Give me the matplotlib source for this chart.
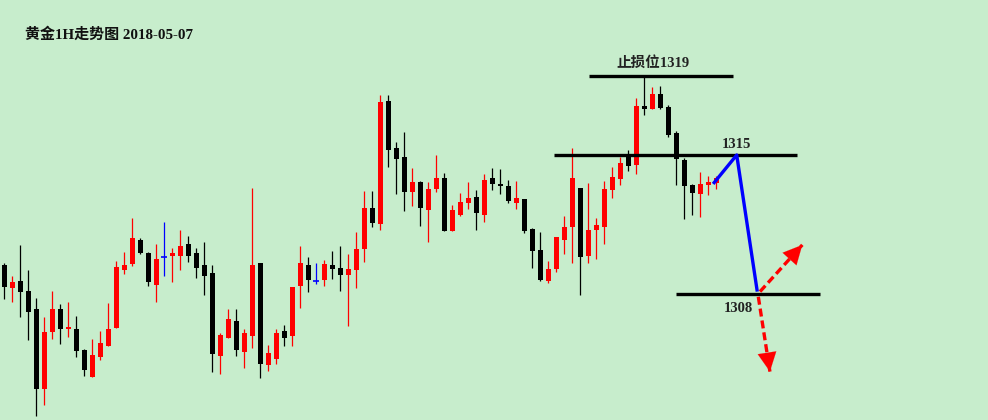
import matplotlib
matplotlib.use("Agg")
import matplotlib.pyplot as plt
import numpy as np

plt.rcParams['font.family'] = ['Liberation Serif', 'Noto Sans CJK SC', 'DejaVu Sans']

title = "黄金1H走势图 2018-05-07"

O = [1309.44,1308.30,1308.63,1308.13,1307.23,1303.20,1306.08,1307.23,1306.23,1306.21,
     1305.15,1303.80,1304.81,1305.37,1306.28,1309.21,1309.51,1310.71,1310.05,1308.45,
     1309.83,1309.91,1309.91,1310.51,1310.05,1309.44,1309.04,1304.86,1305.78,1306.62,
     1305.06,1305.88,1309.54,1304.39,1304.71,1306.11,1305.88,1308.40,1309.44,1308.62,
     1308.70,1309.44,1309.29,1308.95,1309.21,1310.25,1312.32,1311.52,1317.73,1315.35,
     1314.90,1313.13,1313.64,1312.22,1313.28,1313.84,1311.16,1311.97,1312.58,1312.88,
     1311.97,1313.84,1313.54,1313.44,1312.58,1312.78,1311.26,1310.20,1308.65,1309.24,
     1310.71,1311.38,1313.35,1309.91,1311.23,1311.38,1313.25,1313.79,1315.00,1314.51,
     1317.48,1317.34,1318.08,1317.43,1316.11,1314.75,1313.47,1313.05,1313.47,1313.57]

H = [1309.56,1308.89,1310.46,1309.19,1307.78,1306.84,1308.13,1307.48,1307.58,1306.87,
     1305.20,1305.71,1306.11,1307.53,1309.64,1310.10,1311.82,1310.81,1310.11,1310.51,
     1311.62,1310.30,1311.21,1310.91,1310.30,1310.61,1309.44,1306.01,1307.23,1307.23,
     1306.21,1313.34,1309.54,1305.42,1306.21,1306.41,1308.33,1310.40,1309.85,1309.54,
     1309.70,1310.15,1310.40,1310.00,1311.11,1313.18,1313.18,1318.03,1318.03,1315.66,
     1316.16,1314.34,1313.69,1313.64,1315.00,1314.09,1312.48,1313.08,1313.64,1313.23,
     1314.04,1314.34,1314.29,1313.74,1313.69,1312.78,1311.31,1311.11,1309.64,1310.86,
     1311.94,1315.35,1313.35,1313.59,1311.82,1313.69,1314.41,1314.90,1315.25,1317.88,
     1318.96,1318.44,1318.50,1317.53,1316.21,1314.83,1313.54,1314.14,1313.94,1313.94]

L = [1307.73,1307.59,1306.84,1305.67,1301.84,1302.39,1305.73,1305.47,1305.83,1304.81,
     1303.85,1303.80,1304.67,1305.37,1306.28,1309.01,1309.41,1310.01,1308.40,1307.59,
     1308.91,1308.60,1309.21,1309.61,1308.80,1307.91,1304.05,1303.95,1305.78,1304.86,
     1304.24,1305.27,1303.75,1304.08,1304.45,1305.37,1305.37,1307.29,1308.10,1308.50,
     1308.40,1308.75,1308.15,1306.38,1308.30,1309.60,1311.36,1311.21,1314.40,1313.03,
     1312.17,1312.43,1311.42,1310.61,1313.13,1311.16,1311.16,1311.92,1312.27,1311.21,
     1311.62,1313.23,1313.03,1312.58,1312.27,1311.06,1309.29,1308.62,1308.52,1309.09,
     1310.00,1309.53,1307.92,1309.56,1309.75,1310.52,1312.84,1313.49,1314.21,1314.06,
     1317.04,1317.34,1317.34,1315.91,1313.49,1311.78,1311.99,1311.89,1313.00,1313.30]

C = [1308.35,1308.60,1308.09,1307.09,1303.20,1306.06,1307.23,1306.23,1306.31,1305.11,
     1304.15,1304.90,1305.51,1306.21,1309.34,1309.44,1310.81,1310.06,1308.60,1309.75,
     1309.83,1310.05,1310.40,1309.91,1309.30,1308.91,1304.96,1305.91,1306.72,1305.17,
     1306.01,1309.44,1304.45,1305.00,1306.01,1305.78,1308.33,1309.54,1308.70,1308.62,
     1309.49,1309.26,1308.95,1309.24,1310.25,1312.32,1311.57,1317.68,1315.25,1314.80,
     1313.13,1313.64,1312.32,1313.28,1313.84,1311.16,1312.22,1312.63,1312.83,1312.07,
     1313.74,1313.54,1313.44,1312.68,1312.83,1311.18,1310.16,1308.69,1309.24,1310.86,
     1311.36,1313.84,1309.87,1311.21,1311.47,1313.28,1313.89,1314.60,1314.46,1317.48,
     1317.34,1318.08,1317.39,1316.01,1314.81,1313.45,1313.10,1313.54,1313.62,1313.82]

# key levels
levels = [1319, 1315, 1308]
level_spans = [(73.1, 91.1), (68.7, 99.1), (83.96, 101.96)]
level_labels = ["止损位1319", "1315", "1308"]
level_label_pos = [(81.1, 1319.65), (91.5, 1315.55), (91.8, 1307.25)]

# projected path (blue) and scenario arrows (red dashed)
path_x = [88.6, 91.55, 94.12]
path_y = [1313.54, 1315.0, 1308.1]
arrows = [((94.46, 1308.10), (99.75, 1310.46)),
          ((94.25, 1307.84), (95.70, 1304.06))]

BG = "#C7EDCC"
fig = plt.figure(figsize=(9.88, 4.2), dpi=100, facecolor=BG)
ax = fig.add_axes([0, 0, 1, 1])
ax.set_facecolor(BG)
ax.set_xlim(-0.541, 122.96)
ax.set_ylim(1301.616, 1322.828)
ax.axis('off')

O_ = np.array(O); H_ = np.array(H); L_ = np.array(L); C_ = np.array(C)
x = np.arange(len(O_))
colors = np.where(C_ > O_, '#FF0000', np.where(C_ < O_, '#000000', '#0000FF'))

ax.vlines(x, L_, H_, colors=colors, linewidth=0.9, zorder=2)
body_bottom = np.minimum(O_, C_)
body_h = np.maximum(np.abs(C_ - O_), 0.06)
mask = C_ != O_
ax.bar(x[mask], body_h[mask], bottom=body_bottom[mask], width=0.64,
       color=colors[mask], linewidth=0, zorder=3)
dmask = ~mask
ax.hlines(O_[dmask], x[dmask] - 0.36, x[dmask] + 0.36, colors='#0000FF',
          linewidth=1.2, zorder=3)

for lv, (xs, xe), lab, (lx, ly) in zip(levels, level_spans, level_labels, level_label_pos):
    ax.hlines(lv, xs, xe, colors='black', linewidth=2.4, zorder=4)
    ax.text(lx, ly, lab, ha='center', va='center', fontsize=10.5,
            fontweight='bold', color='#222222', zorder=5)

ax.plot(path_x, path_y, color='#0000FF', linewidth=2.4, zorder=5,
        solid_capstyle='butt')

for (x0, y0), (x1, y1) in arrows:
    ax.plot([x0, x1], [y0, y1], color='#FF0000', linewidth=2.4,
            linestyle=(0, (2.4, 1.2)), zorder=5)
    fx = x1 - (x1 - x0) * 0.2
    fy = y1 - (y1 - y0) * 0.2
    ax.annotate('', xy=(x1, y1), xytext=(fx, fy),
                arrowprops=dict(arrowstyle='-|>,head_length=0.85,head_width=0.42',
                                color='#FF0000', lw=0.1, shrinkA=0, shrinkB=0,
                                mutation_scale=16), zorder=6)

ax.text(2.58, 1321.06, title, ha='left', va='center', fontsize=10.8,
        fontweight='bold', color='#111111')

fig.savefig("out.png", dpi=100, facecolor=BG)
